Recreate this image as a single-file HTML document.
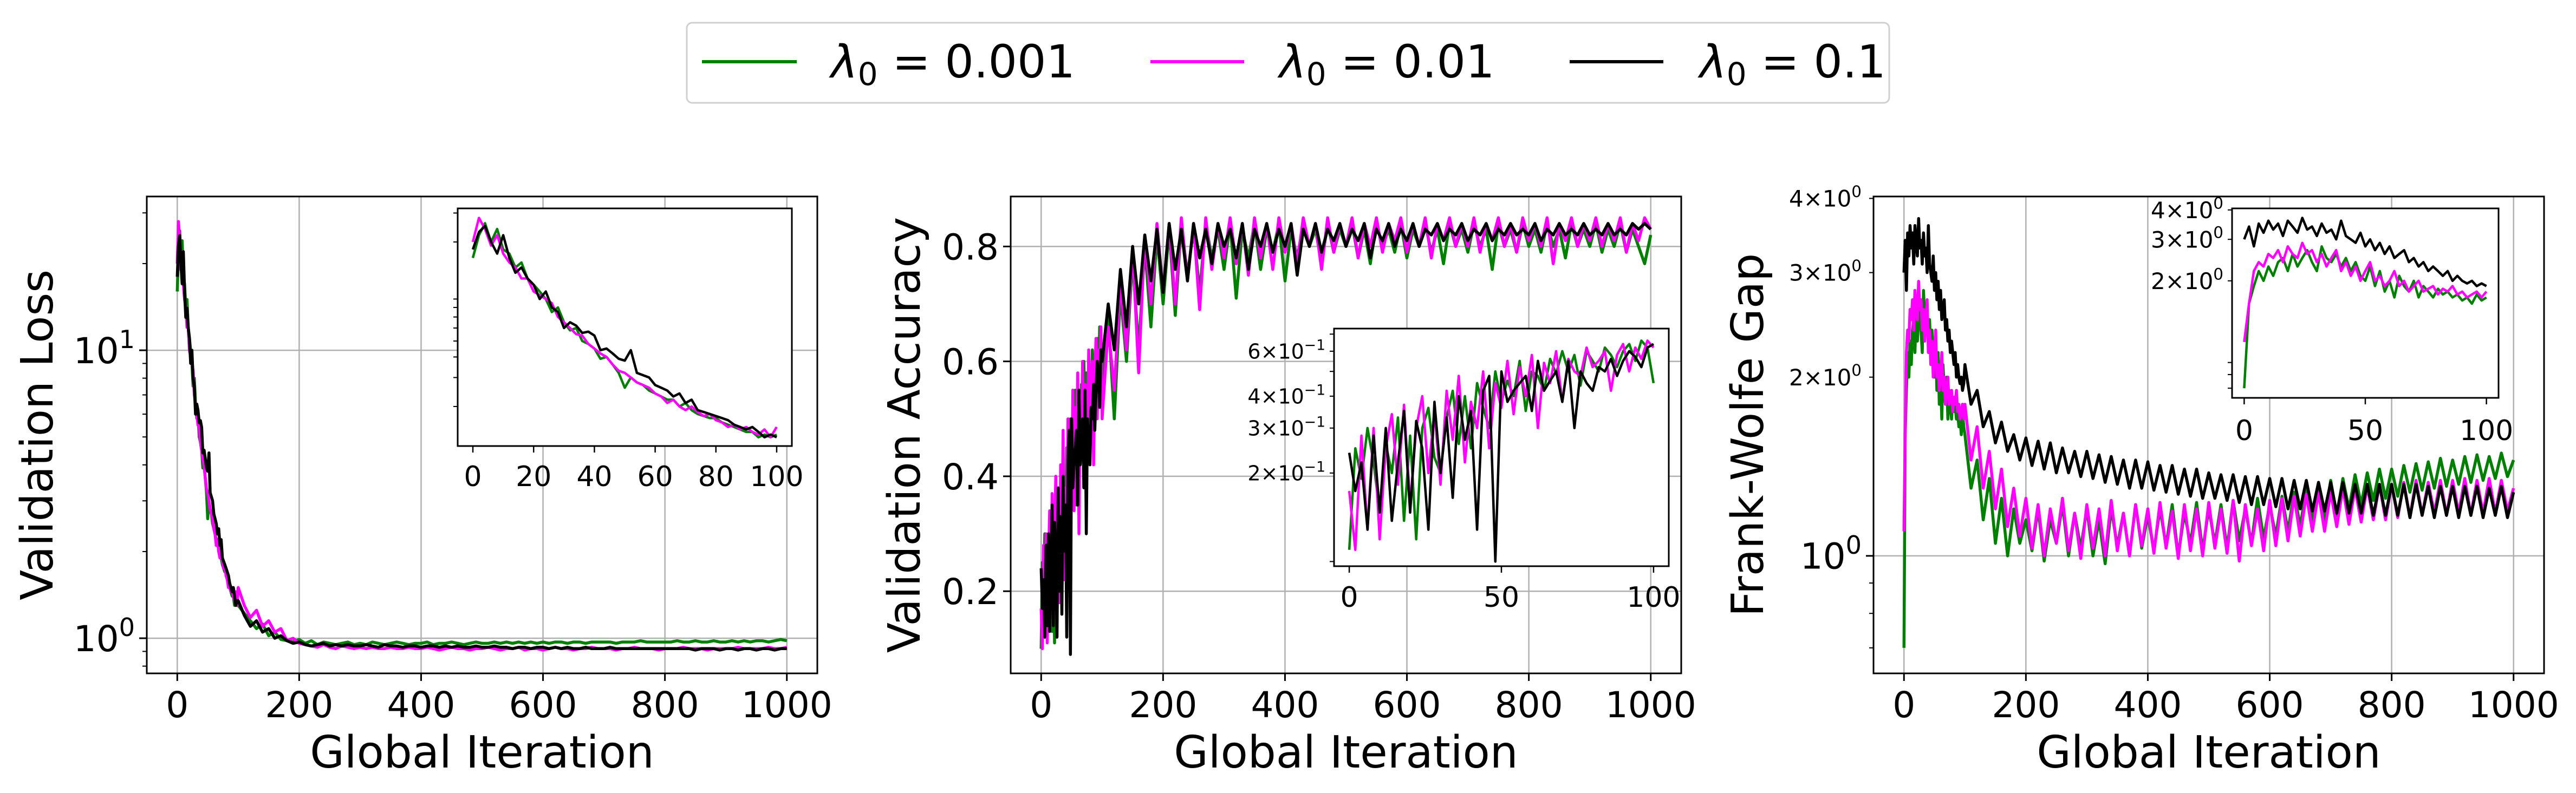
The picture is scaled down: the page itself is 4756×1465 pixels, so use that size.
<!DOCTYPE html>
<html><head><meta charset="utf-8">
<style>
html,body{margin:0;padding:0;background:#fff;}
svg{display:block;font-family:"DejaVu Sans","Liberation Sans",sans-serif;}
</style></head>
<body>
<svg id="fig" width="4756" height="1465" viewBox="0 0 4756 1465" xmlns="http://www.w3.org/2000/svg">
  <rect x="0" y="0" width="4756" height="1465" fill="#fff"/>
  <g>
    <rect x="1268" y="42" width="2220" height="148" rx="10" fill="#fff" stroke="#d0d0d0" stroke-width="3"/>
    <g>
      <line x1="1296" y1="114" x2="1471" y2="114" stroke="#008000" stroke-width="6"/>
      <text x="1534" y="143" font-size="84"><tspan font-style="italic">λ</tspan><tspan font-size="58" dy="14">0</tspan><tspan dy="-14"> = 0.001</tspan></text>
    </g>
    <g>
      <line x1="2124" y1="114" x2="2297" y2="114" stroke="#ff00ff" stroke-width="6"/>
      <text x="2362" y="143" font-size="84"><tspan font-style="italic">λ</tspan><tspan font-size="58" dy="14">0</tspan><tspan dy="-14"> = 0.01</tspan></text>
    </g>
    <g>
      <line x1="2898" y1="114" x2="3071" y2="114" stroke="#000" stroke-width="6"/>
      <text x="3138" y="143" font-size="84"><tspan font-style="italic">λ</tspan><tspan font-size="58" dy="14">0</tspan><tspan dy="-14"> = 0.1</tspan></text>
    </g>
  </g>
</svg>
<script>
// ---------- data (early: x = 0..100 step 2; late: x = 100..1000 step 10) ----------
const earlyX = [];
for (let i = 0; i <= 50; i++) earlyX.push(i * 2);
const lateX = [];
for (let i = 0; i <= 90; i++) lateX.push(100 + i * 10);

const lossGreenEarly = [16,22,26,20,24,18,17,14,15,12,11,10,9,7.5,8,6.5,5.8,6,5,4.8,4.5,3.9,4,3.6,3.2,2.6,3,2.8,2.7,2.5,2.4,2.3,2.2,2.2,2,2.1,1.9,1.8,1.75,1.7,1.7,1.6,1.55,1.5,1.45,1.4,1.4,1.3,1.35,1.3,1.35];
const lossMagentaEarly = [20,28,24,19,22,17,15,14,12,12,10,9.5,9,8.5,7,6.5,6,5.5,5.4,4.8,4.5,4.2,4,3.6,3.3,3.2,3,2.8,2.7,2.6,2.4,2.3,2.1,2.2,2,1.9,2,1.85,1.75,1.8,1.65,1.6,1.5,1.55,1.45,1.5,1.4,1.35,1.45,1.3,1.5];
const lossBlackEarly = [18,23,25,20,17,22,16,13,14,12,11,9,10,8,7.5,6,6.5,6.2,5.6,5.7,5.4,4.4,4.5,4.2,3.9,3.8,4.4,3.2,3.1,3,2.7,2.6,2.5,2.3,2.4,2.1,2.2,1.9,1.85,1.8,1.75,1.7,1.65,1.55,1.5,1.45,1.5,1.4,1.3,1.35,1.3];
const lossGreenLate = [1.3,1.22,1.15,1.08,1.12,1.02,1.05,0.99,0.98,0.97,0.99,0.96,0.98,0.95,0.97,0.96,0.95,0.96,0.97,0.95,0.96,0.95,0.97,0.96,0.95,0.96,0.97,0.96,0.95,0.96,0.96,0.97,0.95,0.96,0.96,0.97,0.96,0.95,0.96,0.97,0.96,0.96,0.97,0.96,0.97,0.96,0.97,0.96,0.97,0.96,0.97,0.96,0.97,0.97,0.96,0.97,0.97,0.96,0.97,0.97,0.97,0.97,0.96,0.97,0.97,0.97,0.98,0.97,0.97,0.97,0.97,0.97,0.98,0.97,0.97,0.98,0.97,0.97,0.98,0.97,0.97,0.98,0.97,0.98,0.97,0.98,0.98,0.97,0.98,0.99,0.98];
const lossMagentaLate = [1.5,1.3,1.18,1.25,1.1,1.15,1.05,1.08,0.98,1.0,0.96,0.95,0.94,0.93,0.95,0.93,0.92,0.94,0.93,0.92,0.93,0.92,0.93,0.92,0.92,0.93,0.92,0.92,0.93,0.92,0.92,0.93,0.92,0.91,0.92,0.93,0.92,0.92,0.91,0.92,0.92,0.93,0.92,0.91,0.92,0.92,0.93,0.91,0.92,0.92,0.91,0.92,0.93,0.92,0.92,0.91,0.92,0.92,0.93,0.92,0.92,0.92,0.91,0.92,0.92,0.93,0.92,0.92,0.92,0.91,0.92,0.92,0.92,0.93,0.92,0.92,0.92,0.91,0.92,0.92,0.92,0.92,0.93,0.92,0.92,0.92,0.92,0.93,0.92,0.92,0.93];
const lossBlackLate = [1.35,1.2,1.1,1.15,1.05,1.08,1.0,1.02,0.98,0.96,0.97,0.95,0.94,0.95,0.96,0.94,0.95,0.94,0.95,0.94,0.94,0.95,0.94,0.93,0.95,0.94,0.94,0.93,0.94,0.94,0.93,0.94,0.94,0.93,0.94,0.93,0.94,0.93,0.93,0.94,0.93,0.93,0.94,0.93,0.93,0.92,0.93,0.93,0.92,0.93,0.93,0.92,0.93,0.92,0.93,0.92,0.92,0.93,0.92,0.92,0.92,0.93,0.92,0.92,0.92,0.92,0.92,0.92,0.92,0.92,0.92,0.92,0.92,0.92,0.92,0.91,0.92,0.92,0.92,0.91,0.92,0.92,0.91,0.92,0.92,0.91,0.92,0.92,0.91,0.92,0.92];

const accGreenEarly = [.1,.25,.19,.3,.22,.14,.26,.2,.33,.13,.28,.11,.3,.36,.23,.2,.33,.42,.26,.4,.25,.45,.36,.3,.5,.38,.46,.4,.55,.35,.5,.48,.42,.56,.49,.6,.5,.58,.44,.6,.55,.5,.62,.58,.52,.6,.64,.55,.66,.62,.45];
const accMagentaEarly = [.17,.1,.28,.12,.3,.11,.25,.34,.18,.37,.15,.3,.4,.2,.35,.18,.42,.27,.48,.22,.38,.3,.5,.25,.45,.36,.55,.34,.52,.4,.58,.3,.54,.45,.6,.38,.56,.5,.48,.62,.52,.55,.6,.42,.58,.64,.5,.62,.56,.66,.62];
const accBlackEarly = [.24,.17,.22,.12,.28,.14,.3,.13,.22,.35,.14,.32,.25,.12,.38,.2,.33,.16,.4,.27,.35,.12,.42,.48,.09,.5,.38,.42,.45,.48,.35,.55,.42,.46,.5,.38,.55,.3,.5,.45,.42,.52,.5,.56,.48,.55,.6,.57,.52,.62,.64];
const accGreenLate = [.55,.68,.5,.72,.6,.78,.62,.8,.66,.82,.7,.83,.68,.84,.75,.83,.72,.84,.78,.83,.76,.84,.71,.83,.78,.84,.76,.83,.79,.84,.74,.83,.78,.84,.8,.83,.77,.84,.79,.83,.8,.84,.78,.83,.77,.84,.8,.83,.79,.84,.78,.83,.8,.84,.79,.83,.77,.84,.8,.83,.79,.84,.8,.83,.76,.84,.8,.83,.79,.84,.8,.83,.79,.84,.8,.83,.78,.84,.8,.83,.8,.84,.79,.83,.8,.84,.79,.83,.8,.77,.82];
const accMagentaLate = [.5,.66,.55,.74,.62,.8,.58,.82,.7,.84,.72,.84,.7,.85,.74,.84,.69,.85,.76,.84,.78,.85,.77,.84,.75,.85,.78,.84,.76,.85,.79,.84,.77,.85,.8,.84,.76,.85,.79,.84,.8,.85,.78,.84,.8,.85,.79,.84,.81,.85,.79,.84,.8,.85,.78,.84,.81,.85,.8,.84,.8,.85,.79,.84,.81,.85,.8,.84,.79,.85,.81,.84,.8,.85,.77,.84,.81,.85,.8,.84,.81,.85,.8,.84,.81,.85,.79,.84,.81,.85,.83];
const accBlackLate = [.6,.7,.62,.76,.66,.8,.7,.82,.74,.83,.72,.84,.76,.83,.74,.84,.78,.83,.77,.84,.8,.83,.78,.84,.76,.83,.8,.84,.79,.83,.8,.84,.75,.83,.8,.84,.79,.83,.81,.84,.8,.83,.81,.84,.78,.83,.81,.84,.8,.83,.81,.84,.8,.83,.82,.84,.81,.83,.82,.84,.81,.83,.82,.84,.81,.83,.82,.84,.82,.83,.82,.84,.81,.83,.82,.84,.82,.83,.82,.84,.82,.83,.82,.84,.82,.83,.82,.84,.83,.84,.83];

const fwGreenEarly = [0.7,1.6,1.9,2.2,2.0,2.3,2.1,2.4,2.5,2.2,2.6,2.3,2.5,2.7,2.4,2.2,2.8,2.5,2.4,2.6,2.3,2.5,2.2,2.4,2.1,2.0,2.3,1.9,2.2,1.8,2.0,1.7,2.1,1.9,1.8,2.0,1.7,1.9,1.8,1.7,1.85,1.75,1.8,1.7,1.75,1.65,1.7,1.6,1.75,1.65,1.7];
const fwMagentaEarly = [1.1,1.6,2.2,2.4,2.3,2.6,2.5,2.7,2.4,2.8,2.6,2.5,2.9,2.6,2.7,2.4,2.6,2.3,2.5,2.7,2.2,2.4,2.1,2.3,2.0,2.2,2.4,2.0,2.1,1.9,2.0,2.2,1.9,2.0,1.8,1.9,2.0,1.8,1.85,1.9,1.75,1.85,1.8,1.9,1.75,1.8,1.7,1.75,1.8,1.7,1.8];
const fwBlackEarly = [3.0,3.4,2.8,3.5,3.2,3.6,3.3,3.5,3.1,3.6,3.4,3.2,3.7,3.3,3.4,3.1,3.5,3.2,3.3,3.0,3.6,3.1,3.0,2.9,3.2,2.8,3.0,2.7,2.9,2.6,2.8,2.5,2.6,2.7,2.4,2.5,2.3,2.4,2.2,2.3,2.2,2.1,2.2,2.0,2.1,2.0,1.95,2.0,1.9,1.95,1.9];
const fwGreenLate = [1.6,1.3,1.45,1.15,1.35,1.05,1.25,1.0,1.2,1.05,1.15,1.02,1.2,0.98,1.15,1.05,1.22,1.0,1.18,1.03,1.2,1.0,1.15,0.97,1.2,1.04,1.18,1.0,1.22,1.03,1.17,1.02,1.2,1.04,1.22,1.0,1.18,1.05,1.23,1.02,1.2,1.05,1.22,1.03,1.24,1.06,1.2,1.05,1.25,1.07,1.22,1.08,1.26,1.1,1.28,1.12,1.3,1.14,1.32,1.15,1.34,1.17,1.35,1.2,1.37,1.22,1.38,1.24,1.4,1.25,1.4,1.26,1.42,1.28,1.43,1.29,1.44,1.3,1.46,1.31,1.45,1.32,1.47,1.33,1.48,1.34,1.47,1.35,1.49,1.36,1.45];
const fwMagentaLate = [1.8,1.45,1.65,1.3,1.5,1.2,1.4,1.12,1.3,1.08,1.25,1.03,1.22,1.0,1.2,1.05,1.25,1.02,1.18,0.99,1.22,1.03,1.2,1.0,1.24,1.02,1.18,1.0,1.22,1.04,1.2,1.01,1.23,1.03,1.19,0.99,1.22,1.02,1.2,1.0,1.23,1.03,1.2,1.01,1.24,0.98,1.22,1.04,1.2,1.02,1.24,1.04,1.25,1.06,1.26,1.08,1.27,1.1,1.28,1.1,1.28,1.12,1.3,1.13,1.3,1.14,1.31,1.15,1.32,1.15,1.32,1.16,1.33,1.16,1.34,1.17,1.33,1.18,1.34,1.17,1.34,1.18,1.35,1.17,1.34,1.18,1.35,1.18,1.34,1.19,1.3];
const fwBlackLate = [2.1,1.8,1.9,1.65,1.75,1.55,1.68,1.5,1.6,1.45,1.58,1.42,1.56,1.4,1.55,1.38,1.52,1.38,1.5,1.36,1.5,1.35,1.48,1.33,1.47,1.32,1.45,1.3,1.45,1.3,1.44,1.29,1.42,1.28,1.42,1.27,1.4,1.26,1.4,1.25,1.38,1.25,1.37,1.24,1.37,1.23,1.36,1.22,1.36,1.22,1.35,1.21,1.35,1.2,1.34,1.2,1.34,1.19,1.33,1.19,1.33,1.18,1.33,1.18,1.32,1.18,1.32,1.17,1.32,1.17,1.32,1.17,1.32,1.16,1.32,1.17,1.31,1.16,1.31,1.17,1.31,1.16,1.31,1.17,1.31,1.16,1.3,1.17,1.31,1.16,1.28];

const mainXTicks = [0,200,400,600,800,1000];
const lossInsetXTicks = [0,20,40,60,80,100];
const otherInsetXTicks = [0,50,100];
const accYTicks = [0.2,0.4,0.6,0.8];

// ---------- helpers ----------
const NS = 'http://www.w3.org/2000/svg';
const svg = document.getElementById('fig');
function mk(tag, attrs, parent) {
  const el = document.createElementNS(NS, tag);
  for (const k in attrs) el.setAttribute(k, attrs[k]);
  (parent || svg).appendChild(el);
  return el;
}
function linScale(d0, d1, r0, r1) { return v => r0 + (v - d0) / (d1 - d0) * (r1 - r0); }
function logScale(d0, d1, r0, r1) { const a = Math.log10(d0), b = Math.log10(d1); return v => r0 + (Math.log10(v) - a) / (b - a) * (r1 - r0); }
function supText(parent, x, y, base, sup, size, anchor) {
  const t = mk('text', {x: x, y: y, 'font-size': size, 'text-anchor': anchor || 'end', fill: '#000'}, parent);
  const s1 = mk('tspan', {}, t); s1.textContent = base;
  const s2 = mk('tspan', {dy: -size * 0.42, 'font-size': size * 0.7}, t); s2.textContent = sup;
  return t;
}
let clipId = 0;
function clipRect(x, y, w, h) {
  const id = 'clip' + (clipId++);
  const cp = mk('clipPath', {id: id});
  mk('rect', {x: x, y: y, width: w, height: h}, cp);
  return 'url(#' + id + ')';
}
function seriesPath(xs, ys, sx, sy) {
  let d = '';
  for (let i = 0; i < xs.length; i++) d += (i ? 'L' : 'M') + sx(xs[i]).toFixed(1) + ',' + sy(ys[i]).toFixed(1);
  return d;
}
function mergeX() { return earlyX.slice(0, 50).concat(lateX); }
function mergeY(e, l) { return e.slice(0, 50).concat(l); }

const COLORS = ['#008000', '#ff00ff', '#000000'];
const SNAMES = ['lambda-0.001', 'lambda-0.01', 'lambda-0.1'];

function drawPanel(cfg) {
  const g = mk('g', {});
  
  
  const L = cfg.left, R = cfg.right, T = 363, B = 1244;
  const sx = linScale(-50, 1050, L, R);
  const sy = cfg.log ? logScale(cfg.ymin, cfg.ymax, B, T) : linScale(cfg.ymin, cfg.ymax, B, T);
  const grid = mk('g', {stroke: '#b0b0b0', 'stroke-width': 2.5}, g);
  
  
  mainXTicks.forEach(v => mk('line', {x1: sx(v), x2: sx(v), y1: T, y2: B}, grid));
  cfg.yMajor.forEach(v => mk('line', {x1: L, x2: R, y1: sy(v), y2: sy(v)}, grid));
  const cp = clipRect(L, T, R - L, B - T);
  const sg = mk('g', {'clip-path': cp, fill: 'none', 'stroke-width': 5.5, 'stroke-linejoin': 'round'}, g);
  cfg.series.forEach((s, i) => {
    const p = mk('path', {d: seriesPath(mergeX(), mergeY(s[0], s[1]), sx, sy), stroke: COLORS[i]}, sg);
    
    
  });
  mk('rect', {x: L, y: T, width: R - L, height: B - T, fill: 'none', stroke: '#000', 'stroke-width': 3}, g);
  const xt = mk('g', {}, g);
  
  
  mainXTicks.forEach(v => {
    mk('line', {x1: sx(v), x2: sx(v), y1: B, y2: B + 14, stroke: '#000', 'stroke-width': 3}, xt);
    const t = mk('text', {x: sx(v), y: 1325, 'font-size': 66, 'text-anchor': 'middle'}, xt);
    t.textContent = String(v);
  });
  const yt = mk('g', {}, g);
  
  
  cfg.yMajor.forEach(v => mk('line', {x1: L - 14, x2: L, y1: sy(v), y2: sy(v), stroke: '#000', 'stroke-width': 3}, yt));
  (cfg.yMinor || []).forEach(v => mk('line', {x1: L - 8, x2: L, y1: sy(v), y2: sy(v), stroke: '#000', 'stroke-width': 2}, yt));
  cfg.yLabels.forEach(lb => {
    if (lb.sup) supText(yt, L - 22, sy(lb.v) + lb.size * 0.36, lb.base, lb.sup, lb.size);
    else { const t = mk('text', {x: L - 22, y: sy(lb.v) + 24, 'font-size': 66, 'text-anchor': 'end'}, yt); t.textContent = lb.base; }
  });
  const xl = mk('text', {x: (L + R) / 2, y: 1418, 'font-size': 82, 'text-anchor': 'middle'}, g);
  xl.textContent = 'Global Iteration';
  
  
  const yl = mk('text', {x: 0, y: 0, 'font-size': 82, 'text-anchor': 'middle', transform: 'translate(' + cfg.ylabelX + ',' + ((T + B) / 2) + ') rotate(-90)'}, g);
  yl.textContent = cfg.ylabel;
  
  
  const I = cfg.inset;
  const ig = mk('g', {}, g);
  
  
  mk('rect', {x: I.left, y: I.top, width: I.right - I.left, height: I.bottom - I.top, fill: '#fff'}, ig);
  const isx = linScale(-5, 105, I.left, I.right);
  const isy = logScale(I.ymin, I.ymax, I.bottom, I.top);
  const icp = clipRect(I.left, I.top, I.right - I.left, I.bottom - I.top);
  const isg = mk('g', {'clip-path': icp, fill: 'none', 'stroke-width': 4.5, 'stroke-linejoin': 'round'}, ig);
  cfg.series.forEach((s, i) => {
    const p = mk('path', {d: seriesPath(earlyX, s[0], isx, isy), stroke: COLORS[i]}, isg);
    
    
  });
  mk('rect', {x: I.left, y: I.top, width: I.right - I.left, height: I.bottom - I.top, fill: 'none', stroke: '#000', 'stroke-width': 3}, ig);
  I.xticks.forEach(v => {
    mk('line', {x1: isx(v), x2: isx(v), y1: I.bottom, y2: I.bottom + 12, stroke: '#000', 'stroke-width': 2.5}, ig);
    const t = mk('text', {x: isx(v), y: I.xlabY, 'font-size': 52, 'text-anchor': 'middle'}, ig);
    t.textContent = String(v);
  });
  I.yticks.forEach(v => mk('line', {x1: I.left - 8, x2: I.left, y1: isy(v), y2: isy(v), stroke: '#000', 'stroke-width': 2}, ig));
  I.ylabels.forEach(lb => supText(ig, I.left - 16, isy(lb.v) + lb.size * 0.36, lb.base, lb.sup, lb.size));
}

drawPanel({
  name: 'validation-loss-panel', left: 271, right: 1509, log: true, ymin: 0.755, ymax: 34.2,
  yMajor: [1, 10], yMinor: [0.8, 0.9, 2, 3, 4, 5, 6, 7, 8, 9, 20, 30],
  yLabels: [{v: 1, base: '10', sup: '0', size: 66}, {v: 10, base: '10', sup: '1', size: 66}],
  ylabel: 'Validation Loss', ylabelX: 97,
  series: [[lossGreenEarly, lossGreenLate], [lossMagentaEarly, lossMagentaLate], [lossBlackEarly, lossBlackLate]],
  inset: {left: 845, right: 1462, top: 385, bottom: 824, ymin: 1.15, ymax: 32, xticks: lossInsetXTicks, xlabY: 898,
    yticks: [2, 3, 4, 5, 6, 7, 8, 9, 20, 30], ylabels: []}
});
drawPanel({
  name: 'validation-accuracy-panel', left: 1866, right: 3104, log: false, ymin: 0.057, ymax: 0.887,
  yMajor: accYTicks, yMinor: [],
  yLabels: accYTicks.map(v => ({v: v, base: v.toFixed(1)})),
  ylabel: 'Validation Accuracy', ylabelX: 1698,
  series: [[accGreenEarly, accGreenLate], [accMagentaEarly, accMagentaLate], [accBlackEarly, accBlackLate]],
  inset: {left: 2463, right: 3081, top: 607, bottom: 1046, ymin: 0.0863, ymax: 0.736, xticks: otherInsetXTicks, xlabY: 1121,
    yticks: [0.09, 0.2, 0.3, 0.4, 0.5, 0.6, 0.7],
    ylabels: [{v: 0.2, base: '2×10', sup: '−1', size: 38}, {v: 0.3, base: '3×10', sup: '−1', size: 38}, {v: 0.4, base: '4×10', sup: '−1', size: 38}, {v: 0.6, base: '6×10', sup: '−1', size: 38}]}
});
drawPanel({
  name: 'frank-wolfe-gap-panel', left: 3459, right: 4697, log: true, ymin: 0.634, ymax: 4.03,
  yMajor: [1], yMinor: [0.7, 0.8, 0.9, 2, 3, 4],
  yLabels: [{v: 1, base: '10', sup: '0', size: 66}, {v: 2, base: '2×10', sup: '0', size: 42}, {v: 3, base: '3×10', sup: '0', size: 42}, {v: 4, base: '4×10', sup: '0', size: 42}],
  ylabel: 'Frank-Wolfe Gap', ylabelX: 3255,
  series: [[fwGreenEarly, fwGreenLate], [fwMagentaEarly, fwMagentaLate], [fwBlackEarly, fwBlackLate]],
  inset: {left: 4121, right: 4613, top: 385, bottom: 735, ymin: 0.637, ymax: 4.06, xticks: otherInsetXTicks, xlabY: 813,
    yticks: [0.7, 0.8, 0.9, 2, 3, 4],
    ylabels: [{v: 2, base: '2×10', sup: '0', size: 42}, {v: 3, base: '3×10', sup: '0', size: 42}, {v: 4, base: '4×10', sup: '0', size: 42}]}
});
</script>
</body></html>
